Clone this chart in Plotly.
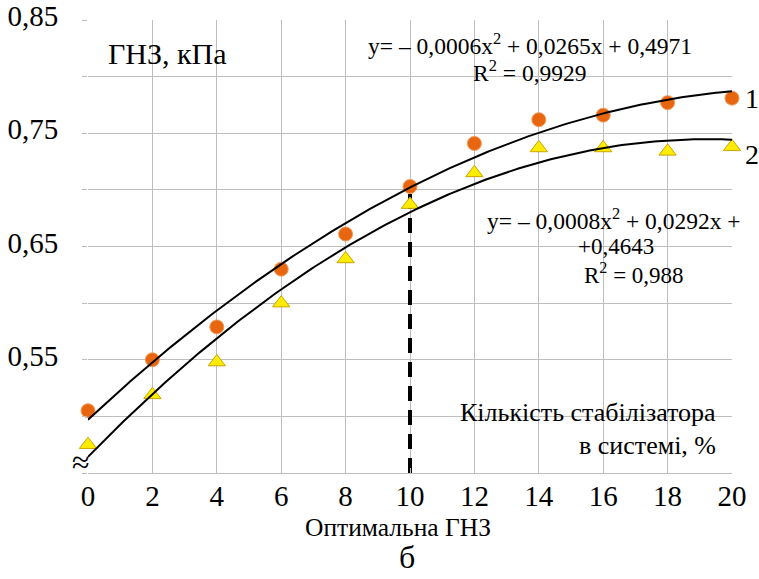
import numpy as np
import plotly.graph_objects as go

# ---- data ----
x_vals = [0, 2, 4, 6, 8, 10, 12, 14, 16, 18, 20]
series1 = [0.505, 0.550, 0.579, 0.630, 0.661, 0.703, 0.741, 0.762, 0.766, 0.777, 0.781]
series2 = [0.475, 0.519, 0.548, 0.600, 0.639, 0.687, 0.715, 0.737, 0.737, 0.734, 0.738]
trend1_coef = [-0.0006, 0.0265, 0.4971]
trend2_coef = [-0.00076, 0.0292, 0.4643]
y_tick_vals = [0.55, 0.65, 0.75, 0.85]
y_tick_text = ["0,55", "0,65", "0,75", "0,85"]
y_minor_vals = [0.45, 0.50, 0.60, 0.70, 0.80]
x_tick_vals = [0, 2, 4, 6, 8, 10, 12, 14, 16, 18, 20]
optimum_index = 5

FONT = "'Liberation Serif', 'Times New Roman', serif"
W, H = 759, 579
L, R, T, B = 88, 27, 20, 106
PW, PH = W - L - R, H - T - B

def px(xp):
    return (xp - L) / PW

def py(yp):
    return (H - B - yp) / PH

xs = np.linspace(0, 20, 200)
t1 = np.polyval(trend1_coef, xs)
t2 = np.polyval(trend2_coef, xs)

fig = go.Figure()

fig.add_trace(go.Scatter(
    x=[x_vals[optimum_index], x_vals[optimum_index]], y=[0.45, series1[optimum_index]],
    mode="lines", line=dict(color="black", width=4, dash="15px,9px"),
    showlegend=False, hoverinfo="skip", cliponaxis=False))

fig.add_trace(go.Scatter(
    x=x_vals, y=series1, mode="markers",
    marker=dict(symbol="circle", size=14, color="#E8660F", line=dict(width=1, color="#F29A5A")),
    showlegend=False, cliponaxis=False))
fig.add_trace(go.Scatter(
    x=x_vals, y=series2, mode="markers",
    marker=dict(symbol="triangle-up", size=15, color="#FFEC00", line=dict(width=1, color="#C9A400")),
    showlegend=False, cliponaxis=False))

fig.add_trace(go.Scatter(x=xs, y=t1, mode="lines", line=dict(color="black", width=2),
                         showlegend=False, hoverinfo="skip", cliponaxis=False))
fig.add_trace(go.Scatter(x=xs, y=t2, mode="lines", line=dict(color="black", width=2),
                         showlegend=False, hoverinfo="skip", cliponaxis=False))

shapes = []
for (x0, x1, y0, y1) in [(338, 730, 12, 95), (473, 745, 193, 302), (432, 722, 393, 465)]:
    shapes.append(dict(type="rect", xref="paper", yref="paper",
                       x0=px(x0), x1=px(x1), y0=py(y1), y1=py(y0),
                       fillcolor="white", line=dict(width=0), layer="between"))

ann = []
def add_text(text, xp, yp, size, xanchor="center", align="center"):
    ann.append(dict(text=text, x=px(xp), y=py(yp), xref="paper", yref="paper",
                    xanchor=xanchor, yanchor="middle", align=align, showarrow=False,
                    font=dict(family=FONT, size=size, color="black")))

add_text("ГНЗ, кПа", 106, 53, 30, xanchor="left")
add_text("y= – 0,0006x<sup>2</sup> + 0,0265x + 0,4971", 530, 44, 23.5)
add_text("R<sup>2</sup> = 0,9929", 530, 71, 23.5)
add_text("y= – 0,0008x<sup>2</sup> + 0,0292x +", 614, 219, 23.5)
add_text("+0,4643", 616, 246, 23)
add_text("R<sup>2</sup> = 0,988", 634, 273, 23)
add_text("Кількість стабілізатора", 718, 412, 26, xanchor="right")
add_text("в системі, %", 718, 445, 26, xanchor="right")
add_text("Оптимальна ГНЗ", 398, 527, 25.5)
add_text("б", 407, 557, 32)
add_text("1", 752, 98, 28)
add_text("2", 752, 155, 28)
add_text("≈", 81, 462, 32)

fig.update_layout(
    width=W, height=H,
    margin=dict(l=L, r=R, t=T, b=B, autoexpand=False),
    paper_bgcolor="white", plot_bgcolor="white",
    font=dict(family=FONT, size=29, color="black"),
    shapes=shapes, annotations=ann,
    showlegend=False,
)
fig.update_xaxes(range=[0, 20], tickvals=x_tick_vals, showgrid=True, gridcolor="#BEBEBE", gridwidth=1,
                 zeroline=False, showline=True, linecolor="#BEBEBE", linewidth=1, automargin=False,
                 ticks="inside", ticklen=5, tickcolor="#BEBEBE", ticklabelstandoff=-3,
                 tickfont=dict(family=FONT, size=29, color="black"))
fig.update_yaxes(range=[0.45, 0.85], tickvals=y_tick_vals, ticktext=y_tick_text, automargin=False,
                 showgrid=True, gridcolor="#BEBEBE", gridwidth=1, zeroline=False,
                 showline=False, ticks="outside", ticklen=5, tickcolor="#BEBEBE",
                 ticklabelstandoff=18, ticklabelshift=-4,
                 minor=dict(tickvals=y_minor_vals, showgrid=True, gridcolor="#BEBEBE", gridwidth=1,
                            ticks="outside", ticklen=5, tickcolor="#BEBEBE"),
                 tickfont=dict(family=FONT, size=29, color="black"))

fig.write_html("out.html")
